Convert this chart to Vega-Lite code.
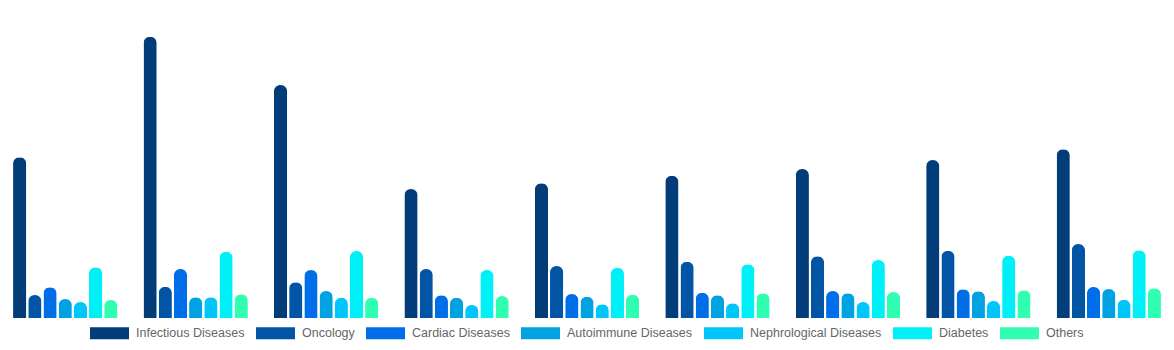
{
  "$schema": "https://vega.github.io/schema/vega-lite/v6.json",
  "width": 1174,
  "height": 318,
  "autosize": {"type": "none"},
  "padding": {"left": 0, "top": 0, "right": 0, "bottom": 32},
  "background": "white",
  "config": {"view": {"stroke": null}, "font": "Liberation Sans"},
  "data": {"values": [
    {"g":"2016","s":"Infectious Diseases","v":160.7},{"g":"2016","s":"Oncology","v":23},{"g":"2016","s":"Cardiac Diseases","v":30.7},{"g":"2016","s":"Autoimmune Diseases","v":19},{"g":"2016","s":"Nephrological Diseases","v":16},{"g":"2016","s":"Diabetes","v":50.7},{"g":"2016","s":"Others","v":18},
    {"g":"2017","s":"Infectious Diseases","v":281.3},{"g":"2017","s":"Oncology","v":31.3},{"g":"2017","s":"Cardiac Diseases","v":49},{"g":"2017","s":"Autoimmune Diseases","v":20.7},{"g":"2017","s":"Nephrological Diseases","v":20.7},{"g":"2017","s":"Diabetes","v":66.3},{"g":"2017","s":"Others","v":23.7},
    {"g":"2018","s":"Infectious Diseases","v":233},{"g":"2018","s":"Oncology","v":35.7},{"g":"2018","s":"Cardiac Diseases","v":48},{"g":"2018","s":"Autoimmune Diseases","v":27},{"g":"2018","s":"Nephrological Diseases","v":20.3},{"g":"2018","s":"Diabetes","v":67},{"g":"2018","s":"Others","v":20.3},
    {"g":"2019","s":"Infectious Diseases","v":129},{"g":"2019","s":"Oncology","v":49},{"g":"2019","s":"Cardiac Diseases","v":22.7},{"g":"2019","s":"Autoimmune Diseases","v":20.3},{"g":"2019","s":"Nephrological Diseases","v":13},{"g":"2019","s":"Diabetes","v":48},{"g":"2019","s":"Others","v":22},
    {"g":"2020","s":"Infectious Diseases","v":134.7},{"g":"2020","s":"Oncology","v":52},{"g":"2020","s":"Cardiac Diseases","v":24},{"g":"2020","s":"Autoimmune Diseases","v":21.3},{"g":"2020","s":"Nephrological Diseases","v":13.7},{"g":"2020","s":"Diabetes","v":50.3},{"g":"2020","s":"Others","v":23.3},
    {"g":"2021","s":"Infectious Diseases","v":142.3},{"g":"2021","s":"Oncology","v":56.3},{"g":"2021","s":"Cardiac Diseases","v":25.3},{"g":"2021","s":"Autoimmune Diseases","v":22.7},{"g":"2021","s":"Nephrological Diseases","v":14.7},{"g":"2021","s":"Diabetes","v":53.7},{"g":"2021","s":"Others","v":24.7},
    {"g":"2022","s":"Infectious Diseases","v":149},{"g":"2022","s":"Oncology","v":61.7},{"g":"2022","s":"Cardiac Diseases","v":27},{"g":"2022","s":"Autoimmune Diseases","v":24.7},{"g":"2022","s":"Nephrological Diseases","v":16},{"g":"2022","s":"Diabetes","v":58},{"g":"2022","s":"Others","v":26},
    {"g":"2023","s":"Infectious Diseases","v":158},{"g":"2023","s":"Oncology","v":67.3},{"g":"2023","s":"Cardiac Diseases","v":28.7},{"g":"2023","s":"Autoimmune Diseases","v":26.7},{"g":"2023","s":"Nephrological Diseases","v":17},{"g":"2023","s":"Diabetes","v":62.3},{"g":"2023","s":"Others","v":27.7},
    {"g":"2024","s":"Infectious Diseases","v":168.7},{"g":"2024","s":"Oncology","v":74},{"g":"2024","s":"Cardiac Diseases","v":31},{"g":"2024","s":"Autoimmune Diseases","v":29},{"g":"2024","s":"Nephrological Diseases","v":18.3},{"g":"2024","s":"Diabetes","v":67.7},{"g":"2024","s":"Others","v":29.7}
  ]},
  "mark": {"type": "bar", "cornerRadiusTopLeft": 6.5, "cornerRadiusTopRight": 6.5},
  "encoding": {
    "x": {"field": "g", "type": "nominal", "axis": null, "scale": {"paddingInner": 0.2, "paddingOuter": 0.1}},
    "xOffset": {"field": "s", "type": "nominal", "sort": ["Infectious Diseases","Oncology","Cardiac Diseases","Autoimmune Diseases","Nephrological Diseases","Diabetes","Others"], "scale": {"paddingInner": 0.13, "paddingOuter": 0}},
    "y": {"field": "v", "type": "quantitative", "axis": null, "scale": {"domain": [0, 318], "nice": false}},
    "color": {
      "field": "s", "type": "nominal",
      "scale": {
        "domain": ["Infectious Diseases","Oncology","Cardiac Diseases","Autoimmune Diseases","Nephrological Diseases","Diabetes","Others"],
        "range": ["#023d7a","#0255a5","#006ee8","#00a2e2","#00c6fc","#00f0f8","#30ffb2"]
      },
      "legend": {
        "title": null,
        "orient": "none",
        "legendX": 90,
        "legendY": 321,
        "direction": "horizontal",
        "columns": 7,
        "padding": 0,
        "columnPadding": 11,
        "symbolType": "M-1,-0.5H2.25V0.5H-1Z",
        "symbolSize": 576,
        "symbolStrokeWidth": 0,
        "symbolOpacity": 1,
        "labelFontSize": 12.5,
        "labelColor": "#666666",
        "labelFont": "Liberation Sans",
        "labelOffset": 22
      }
    }
  }
}
